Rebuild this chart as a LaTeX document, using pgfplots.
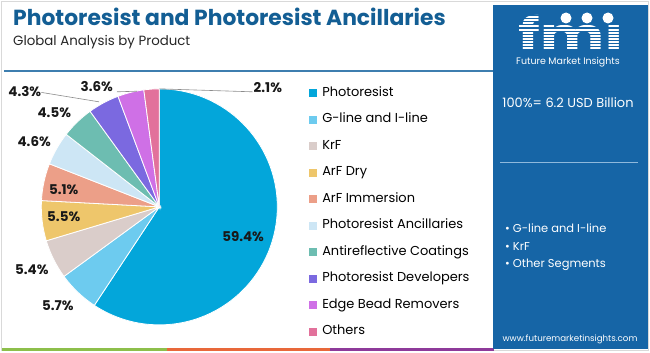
\documentclass[border=0pt]{standalone}
\usepackage{fontspec}
\setmainfont{Poppins}
\usepackage{pgfplots}
\usepackage{pgfplotstable}
\pgfplotsset{compat=1.18}

\definecolor{titleblue}{HTML}{135E94}
\definecolor{panelblue}{HTML}{1665A6}
\definecolor{topline}{HTML}{3D7EAF}
\definecolor{stripg}{HTML}{8DBF4B}
\definecolor{stripo}{HTML}{E8683A}
\definecolor{stripp}{HTML}{8E3A9A}
\definecolor{panelline}{HTML}{8FB9DC}
\definecolor{c1}{HTML}{03A6DA}
\definecolor{c2}{HTML}{6DCBEF}
\definecolor{c3}{HTML}{DACDCA}
\definecolor{c4}{HTML}{EEC66B}
\definecolor{c5}{HTML}{EC9F88}
\definecolor{c6}{HTML}{CDE6F5}
\definecolor{c7}{HTML}{6DBDB1}
\definecolor{c8}{HTML}{7B69E0}
\definecolor{c9}{HTML}{CF70E6}
\definecolor{c10}{HTML}{E2719B}

\pgfplotstableread[col sep=comma]{
name,value,color
Photoresist,59.4,c1
G-line and I-line,5.7,c2
KrF,5.4,c3
ArF Dry,5.5,c4
ArF Immersion,5.1,c5
Photoresist Ancillaries,4.6,c6
Antireflective Coatings,4.5,c7
Photoresist Developers,4.3,c8
Edge Bead Removers,3.6,c9
Others,2.1,c10
}\piedata

\begin{document}
\begin{tikzpicture}[x=1bp,y=1bp]
\useasboundingbox (0,0) rectangle (650,352);
\fill[white] (0,0) rectangle (650,352);
\draw[black!15, line width=0.8bp] (1.5,1.5) rectangle (648.5,350.5);

% top rule and bottom strip
\draw[topline, line width=1.5bp] (4,281) -- (494,281);
\fill[stripg] (2,1) rectangle (167,4.5);
\fill[stripo] (167,1) rectangle (330,4.5);
\fill[stripp] (330,1) rectangle (494,4.5);

% title
\node[anchor=base west, inner sep=0, text=titleblue, font=\fontsize{21.9}{24}\selectfont\bfseries] at (13,327) {Photoresist and Photoresist Ancillaries};
\node[anchor=base west, inner sep=0, text=black!85, font=\fontsize{13.4}{15}\selectfont] at (13,307) {Global Analysis by Product};

% right panel
\fill[panelblue] (493,3) rectangle (648,347);
\node[anchor=base, inner sep=0, text depth=0pt, text=white, font=\fontsize{45}{45}\selectfont\bfseries, xscale=1.35] at (571,302) {fmı};
\foreach \yy in {13,16,...,52} \draw[panelblue, line width=1bp] (505,352-\yy) -- (640,352-\yy);
\foreach \xx in {566,587,608} \fill[white] (\xx,334) circle (5.5);
\node[text=white, inner sep=0, font=\fontsize{9.5}{11}\selectfont] at (568,290) {Future Market Insights};
\node[text=white, inner sep=0, font=\fontsize{13}{15}\selectfont] at (568,249) {100\%= 6.2 USD Billion};
\draw[panelline, line width=1bp] (500,190) -- (638,190);
\node[anchor=base west, text=white, inner sep=0, font=\fontsize{11.5}{13}\selectfont] at (505,120) {• G-line and I-line};
\node[anchor=base west, text=white, inner sep=0, font=\fontsize{11.5}{13}\selectfont] at (505,102) {• KrF};
\node[anchor=base west, text=white, inner sep=0, font=\fontsize{11.5}{13}\selectfont] at (505,85) {• Other Segments};
\node[text=white, inner sep=0, font=\fontsize{8.7}{10}\selectfont] at (570,13) {www.futuremarketinsights.com};

% total
\pgfplotstablegetrowsof{\piedata}
\pgfmathtruncatemacro\nrows{\pgfplotsretval-1}
\gdef\total{0}
\foreach \i in {0,...,\nrows}{%
  \pgfplotstablegetelem{\i}{value}\of\piedata
  \pgfmathsetmacro\tmpsum{\total+\pgfplotsretval}\xdef\total{\tmpsum}}

\begin{axis}[
  at={(35,23)}, anchor=south west,
  scale only axis, width=236bp, height=236bp,
  xmin=-1, xmax=1, ymin=-1, ymax=1,
  hide axis, clip=false,
  legend style={at={(1.135,1.013)}, anchor=north west, draw=none, fill=none,
    inner sep=0pt, row sep=12.5bp,
    font=\fontsize{13}{15}\selectfont,
    nodes={text height=10bp, text depth=3bp, inner sep=0.5bp},
    /tikz/every odd column/.append style={column sep=5bp}},
  legend cell align=left,
]
\pgfplotsextra{
  \gdef\cumangle{90}
  \foreach \i in {0,...,\nrows}{
    \pgfplotstablegetelem{\i}{value}\of\piedata \let\sliceval\pgfplotsretval
    \pgfplotstablegetelem{\i}{color}\of\piedata \let\slicecol\pgfplotsretval
    \pgfmathsetmacro\angA{\cumangle}
    \pgfmathsetmacro\angB{\cumangle-\sliceval/\total*360}
    \fill[fill=\slicecol, draw=white, line width=0.8bp] (axis cs:0,0) -- (axis cs:{cos(\angA)},{sin(\angA)}) arc[start angle=\angA, end angle=\angB, radius=118bp] -- cycle;
    \xdef\cumangle{\angB}
  }
  % leader lines
  \draw[black!45, line width=0.6bp] (axis cs:-1.0,0.97) -- (axis cs:-0.51,0.89);
  \draw[black!45, line width=0.6bp] (axis cs:-0.36,0.975) -- (axis cs:-0.19,0.98);
  \draw[black!45, line width=0.6bp] (axis cs:0.79,0.975) -- (axis cs:0.0,1.0);
  % labels
  \begin{scope}[every node/.style={font=\fontsize{13.5}{15}\selectfont\bfseries, text=black!90, inner sep=0}]
  \node at (axis cs:0.71,-0.25) {59.4\%};
  \node at (axis cs:-0.86,-0.84) {5.7\%};
  \node at (axis cs:-1.08,-0.53) {5.4\%};
  \node at (axis cs:-0.81,-0.08) {5.5\%};
  \node at (axis cs:-0.81,0.15) {5.1\%};
  \node at (axis cs:-1.06,0.55) {4.6\%};
  \node at (axis cs:-0.89,0.80) {4.5\%};
  \node at (axis cs:-1.14,0.98) {4.3\%};
  \node at (axis cs:-0.53,1.02) {3.6\%};
  \node at (axis cs:0.92,1.01) {2.1\%};
  \end{scope}
}
\addlegendimage{legend image code/.code={\fill[c1] (0bp,-3.5bp) rectangle (7bp,3.5bp);}}
\addlegendentry{Photoresist}
\addlegendimage{legend image code/.code={\fill[c2] (0bp,-3.5bp) rectangle (7bp,3.5bp);}}
\addlegendentry{G-line and I-line}
\addlegendimage{legend image code/.code={\fill[c3] (0bp,-3.5bp) rectangle (7bp,3.5bp);}}
\addlegendentry{KrF}
\addlegendimage{legend image code/.code={\fill[c4] (0bp,-3.5bp) rectangle (7bp,3.5bp);}}
\addlegendentry{ArF Dry}
\addlegendimage{legend image code/.code={\fill[c5] (0bp,-3.5bp) rectangle (7bp,3.5bp);}}
\addlegendentry{ArF Immersion}
\addlegendimage{legend image code/.code={\fill[c6] (0bp,-3.5bp) rectangle (7bp,3.5bp);}}
\addlegendentry{Photoresist Ancillaries}
\addlegendimage{legend image code/.code={\fill[c7] (0bp,-3.5bp) rectangle (7bp,3.5bp);}}
\addlegendentry{Antireflective Coatings}
\addlegendimage{legend image code/.code={\fill[c8] (0bp,-3.5bp) rectangle (7bp,3.5bp);}}
\addlegendentry{Photoresist Developers}
\addlegendimage{legend image code/.code={\fill[c9] (0bp,-3.5bp) rectangle (7bp,3.5bp);}}
\addlegendentry{Edge Bead Removers}
\addlegendimage{legend image code/.code={\fill[c10] (0bp,-3.5bp) rectangle (7bp,3.5bp);}}
\addlegendentry{Others}
\end{axis}
\end{tikzpicture}
\end{document}
